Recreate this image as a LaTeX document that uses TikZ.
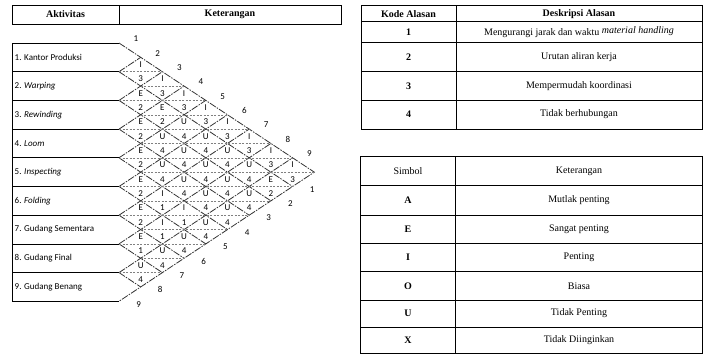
\documentclass[tikz,border=0pt]{standalone}
\usepackage{fontspec}
\setmainfont{Liberation Serif}
\newfontfamily\chartfont{Carlito}
\begin{document}
\begin{tikzpicture}[x=1pt, y=-1pt,
  font=\fontsize{10}{12}\selectfont,
  tab/.style={draw=black, line width=0.8pt},
  grid/.style={draw=black!80, line width=0.8pt, dash pattern=on 7pt off 1.2pt on 1.5pt off 1.2pt},
  mid/.style={draw=black!50, line width=0.5pt, dash pattern=on 2pt off 1.5pt},
  hd/.style={font=\fontsize{10}{12}\selectfont\bfseries, inner sep=0pt},
  txt/.style={inner sep=0pt},
  act/.style={font=\chartfont\fontsize{9}{11}\selectfont, anchor=west, inner sep=0pt},
  sym/.style={font=\chartfont\fontsize{9}{11}\selectfont, inner sep=0pt},
  idx/.style={font=\chartfont\fontsize{9}{11}\selectfont, inner sep=0pt}]
\useasboundingbox (0,0) rectangle (705,354);
% ---------------- activity column ----------------
\draw[tab] (12,5) rectangle (341,24);
\draw[tab] (119,5) -- (119,24);
\node[hd] (aktv) at (65.5,14.5) {Aktivitas};
\node[hd] (ketr) at (230,14.5) {Keterangan};
\draw[tab] (119,43) -- (12,43) -- (12,301) -- (119,301);
\foreach \k in {1,...,8} { \draw[tab] (12,{43+\k*28.7}) -- (119,{43+\k*28.7}); }
\foreach \r [count=\k] in {1. Kantor Produksi, 2. \textit{Warping}, 3. \textit{Rewinding},
    4. \textit{Loom}, 5. \textit{Inspecting}, 6. \textit{Folding},
    7. Gudang Sementara, 8. Gudang Final, 9. Gudang Benang}
  { \node[act] (a\k) at (14.5,{43+(\k-0.5)*28.7}) {\r}; }
% ---------------- relationship diamonds ----------------
\begin{scope}[shift={(119,43)}, x=21.7pt, y=-14.35pt]
\foreach \k in {1,...,8} {
  \draw[grid] (0,{2*\k}) -- ({9-\k},{9+\k});
  \draw[grid] (0,{2*\k}) -- (\k,\k);
}
\draw[grid] (0,0) -- (9,9) -- (0,18);
\foreach \b in {2,...,16} {
  \pgfmathsetmacro\s{mod(\b,2)}
  \pgfmathsetmacro\e{min(\b,18-\b)}
  \draw[mid] (\s,\b) -- (\e,\b);
}
\foreach \i/\j/\d/\c in {1/2/I/3, 1/3/I/3, 1/4/I/3, 1/5/I/3, 1/6/I/3, 1/7/I/3, 1/8/I/3, 1/9/I/3,
    2/3/E/2, 2/4/E/2, 2/5/U/4, 2/6/U/4, 2/7/U/4, 2/8/U/4, 2/9/E/2,
    3/4/E/2, 3/5/U/4, 3/6/U/4, 3/7/U/4, 3/8/U/4, 3/9/U/4,
    4/5/E/2, 4/6/U/4, 4/7/U/4, 4/8/U/4, 4/9/U/4,
    5/6/E/2, 5/7/I/1, 5/8/I/1, 5/9/U/4,
    6/7/E/2, 6/8/I/1, 6/9/U/4,
    7/8/E/1, 7/9/U/4,
    8/9/U/4} {
  \node[sym] (s\i\j) at ({\j-\i},{\i+\j-1.5}) {\d};
  \node[sym] (c\i\j) at ({\j-\i},{\i+\j-0.5}) {\c};
}
\foreach \k in {1,...,9} {
  \node[idx] (t\k) at ({\k-0.22},{\k-1.28}) {\k};
  \node[idx] (u\k) at ({9.9-\k},{9.2+\k}) {\k};
}
\end{scope}
% ---------------- reason codes ----------------
\draw[tab] (361,5.7) rectangle (702,129);
\draw[tab] (456,5.7) -- (456,129);
\foreach \y in {21.7,42.3,71.7,100} { \draw[tab] (361,\y) -- (702,\y); }
\node[hd] (kode) at (408.5,13.7) {Kode Alasan};
\node[hd] (desk) at (579,13.7) {Deskripsi Alasan};
\foreach \y/\n/\t in {32/1/Mengurangi jarak dan waktu \raisebox{2pt}{\textit{material handling}},
    57/2/Urutan aliran kerja, 86/3/Mempermudah koordinasi, 114.5/4/Tidak berhubungan}
  { \node[txt, font=\fontsize{10}{12}\selectfont\bfseries] (k\n) at (408.5,\y) {\n};
    \node[txt] (r\n) at (579,\y) {\t}; }
% ---------------- symbols ----------------
\draw[tab] (360,156.7) rectangle (702,353);
\draw[tab] (455.3,156.7) -- (455.3,353);
\foreach \y in {185.7,215,243,271.7,300,327} { \draw[tab] (360,\y) -- (702,\y); }
\node[txt] (simb) at (408,171.2) {Simbol};
\node[txt] (kete) at (579,171.2) {Keterangan};
\foreach \y/\n/\t in {200.3/A/Mutlak penting, 229/E/Sangat penting, 257.3/I/Penting,
    285.8/O/Biasa, 313.5/U/Tidak Penting, 340/X/Tidak Diinginkan}
  { \node[txt, font=\fontsize{10}{12}\selectfont\bfseries] (l\n) at (408,\y) {\n};
    \node[txt] (m\n) at (579,\y) {\t}; }
\end{tikzpicture}
\end{document}
